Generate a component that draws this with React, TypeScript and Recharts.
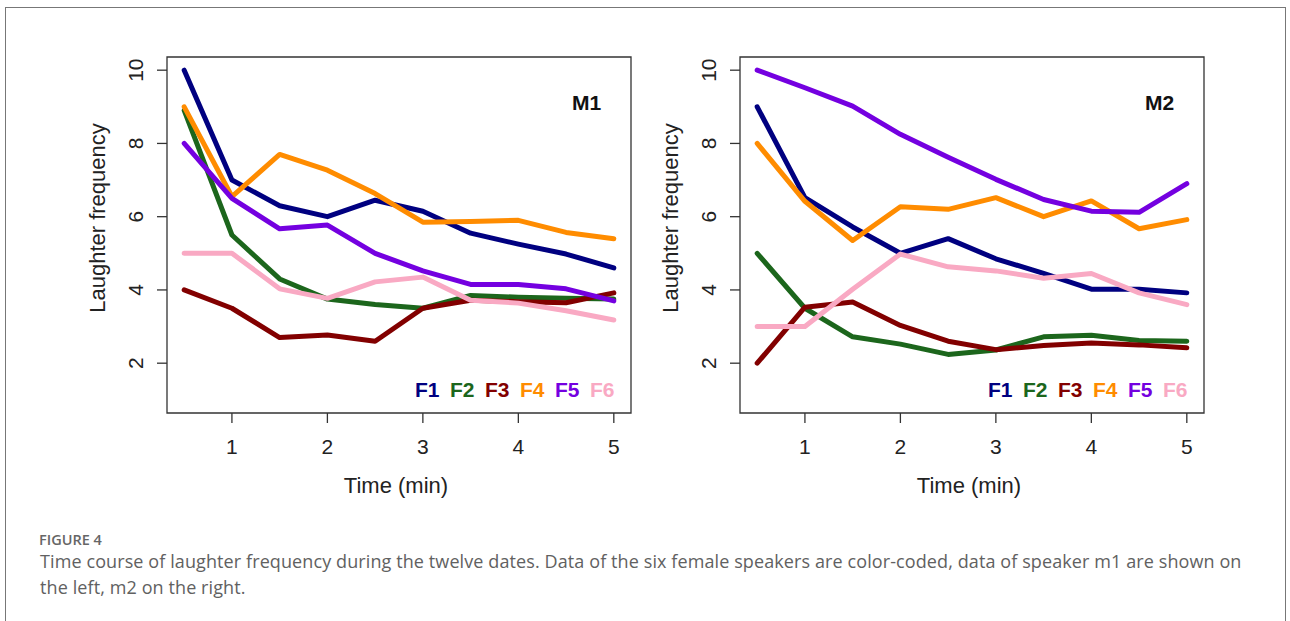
import { LineChart, Line, XAxis, YAxis, ReferenceArea } from "recharts";

const times = [0.5, 1, 1.5, 2, 2.5, 3, 3.5, 4, 4.5, 5];
const speakers = ["F1", "F2", "F3", "F4", "F5", "F6"];
const colors = ["#000080", "#1c661c", "#820000", "#ff8c00", "#7400e0", "#f9a9c3"];
const xTicks = [1, 2, 3, 4, 5];
const yTicks = [2, 4, 6, 8, 10];

// speaker m1
const m1F1 = [10, 7.0, 6.3, 6.0, 6.45, 6.15, 5.55, 5.25, 4.98, 4.6];
const m1F2 = [8.9, 5.5, 4.3, 3.75, 3.6, 3.5, 3.85, 3.8, 3.77, 3.75];
const m1F3 = [4.0, 3.5, 2.7, 2.77, 2.6, 3.5, 3.72, 3.68, 3.65, 3.92];
const m1F4 = [9.0, 6.55, 7.7, 7.27, 6.63, 5.85, 5.87, 5.9, 5.57, 5.4];
const m1F5 = [8.0, 6.5, 5.67, 5.77, 5.0, 4.52, 4.15, 4.15, 4.03, 3.7];
const m1F6 = [5.0, 5.0, 4.03, 3.77, 4.22, 4.35, 3.72, 3.64, 3.43, 3.18];

// speaker m2
const m2F1 = [9.0, 6.52, 5.72, 5.0, 5.4, 4.85, 4.45, 4.02, 4.02, 3.92];
const m2F2 = [5.0, 3.5, 2.72, 2.52, 2.24, 2.36, 2.72, 2.76, 2.62, 2.6];
const m2F3 = [2.0, 3.53, 3.67, 3.03, 2.6, 2.37, 2.48, 2.55, 2.5, 2.42];
const m2F4 = [8.0, 6.42, 5.35, 6.27, 6.2, 6.52, 6.0, 6.43, 5.67, 5.92];
const m2F5 = [10.0, 9.52, 9.02, 8.25, 7.62, 7.02, 6.47, 6.15, 6.12, 6.9];
const m2F6 = [3.0, 3.0, 4.02, 4.98, 4.63, 4.52, 4.32, 4.45, 3.92, 3.6];

const buildRows = (series: number[][]) =>
  times.map((t, i) => {
    const row: any = { t };
    speakers.forEach((s, k) => (row[s] = series[k][i]));
    return row;
  });

const m1Data = buildRows([m1F1, m1F2, m1F3, m1F4, m1F5, m1F6]);
const m2Data = buildRows([m2F1, m2F2, m2F3, m2F4, m2F5, m2F6]);

const FONT = "'Liberation Sans', Arial, Helvetica, sans-serif";
const CAPTION_FONT = "'Open Sans', 'Noto Sans', sans-serif";
const X_DOM = [0.32, 5.18];
const Y_DOM = [0.64, 10.36];
const PANEL_SHIFT = 573;

const YTick = (props: any) => {
  const { x, y, payload } = props;
  return (
    <text
      x={x}
      y={y}
      transform={`rotate(-90 ${x} ${y})`}
      textAnchor="middle"
      fontSize={21}
      fontFamily={FONT}
      fill="#222"
    >
      {payload.value}
    </text>
  );
};

const Panel = ({ data, left }: { data: any[]; left: number }) => (
  <div style={{ position: "absolute", left, top: 0 }}>
    <LineChart
      width={600}
      height={500}
      data={data}
      margin={{ top: 57, right: 29, bottom: 47, left: 57 }}
    >
      <XAxis
        dataKey="t"
        type="number"
        domain={X_DOM}
        ticks={xTicks}
        allowDataOverflow
        axisLine={false}
        tickLine={{ stroke: "#333", strokeWidth: 1.3 }}
        tickSize={10}
        tickMargin={16}
        height={40}
        tick={{ fontSize: 21, fill: "#222", fontFamily: FONT }}
      />
      <YAxis
        type="number"
        domain={Y_DOM}
        ticks={yTicks}
        allowDataOverflow
        axisLine={false}
        tickLine={{ stroke: "#333", strokeWidth: 1.3 }}
        tickSize={10}
        tickMargin={14}
        width={50}
        tick={<YTick />}
      />
      {speakers.map((s, i) => (
        <Line
          key={s}
          dataKey={s}
          type="linear"
          stroke={colors[i]}
          strokeWidth={5}
          strokeLinejoin="round"
          strokeLinecap="round"
          dot={false}
          activeDot={false}
          isAnimationActive={false}
        />
      ))}
      <ReferenceArea
        x1={X_DOM[0]}
        x2={X_DOM[1]}
        y1={Y_DOM[0]}
        y2={Y_DOM[1]}
        fill="none"
        fillOpacity={0}
        stroke="#333"
        strokeWidth={1.3}
      />
    </LineChart>
  </div>
);

const PanelText = ({ dx, title }: { dx: number; title: string }) => (
  <g fontFamily={FONT}>
    <text
      x={105 + dx}
      y={218}
      transform={`rotate(-90 ${105 + dx} 218)`}
      textAnchor="middle"
      fontSize={22}
      fill="#222"
    >
      Laughter frequency
    </text>
    <text x={396 + dx} y={493} textAnchor="middle" fontSize={22} fill="#222">
      Time (min)
    </text>
    <text x={572 + dx} y={110} fontSize={21} fontWeight="bold" fill="#111">
      {title}
    </text>
    {speakers.map((s, i) => (
      <text
        key={s}
        x={415 + dx + i * 35}
        y={397}
        fontSize={21}
        fontWeight="bold"
        fill={colors[i]}
      >
        {s}
      </text>
    ))}
  </g>
);

export default function App() {
  return (
    <div
      style={{
        position: "absolute",
        left: 0,
        top: 0,
        width: 1290,
        height: 621,
        overflow: "hidden",
        background: "#fff",
      }}
    >
      <div
        style={{
          position: "absolute",
          left: 5,
          top: 7,
          width: 1279,
          height: 700,
          border: "1px solid #777",
        }}
      />
      <Panel data={m1Data} left={60} />
      <Panel data={m2Data} left={60 + PANEL_SHIFT} />
      <svg
        width={1290}
        height={621}
        style={{ position: "absolute", left: 0, top: 0, pointerEvents: "none" }}
      >
        <PanelText dx={0} title="M1" />
        <PanelText dx={PANEL_SHIFT} title="M2" />
      </svg>
      <div
        style={{
          position: "absolute",
          left: 39,
          top: 530,
          fontFamily: CAPTION_FONT,
          fontSize: 14.5,
          fontWeight: 600,
          color: "#666",
          lineHeight: "20px",
        }}
      >
        FIGURE 4
      </div>
      <div
        style={{
          position: "absolute",
          left: 40,
          top: 548,
          fontFamily: CAPTION_FONT,
          fontSize: 18,
          letterSpacing: 0.1,
          color: "#616161",
          lineHeight: "26px",
          whiteSpace: "nowrap",
        }}
      >
        <div>
          Time course of laughter frequency during the twelve dates. Data of the six female speakers are color-coded, data of speaker m1 are shown on
        </div>
        <div>the left, m2 on the right.</div>
      </div>
    </div>
  );
}
